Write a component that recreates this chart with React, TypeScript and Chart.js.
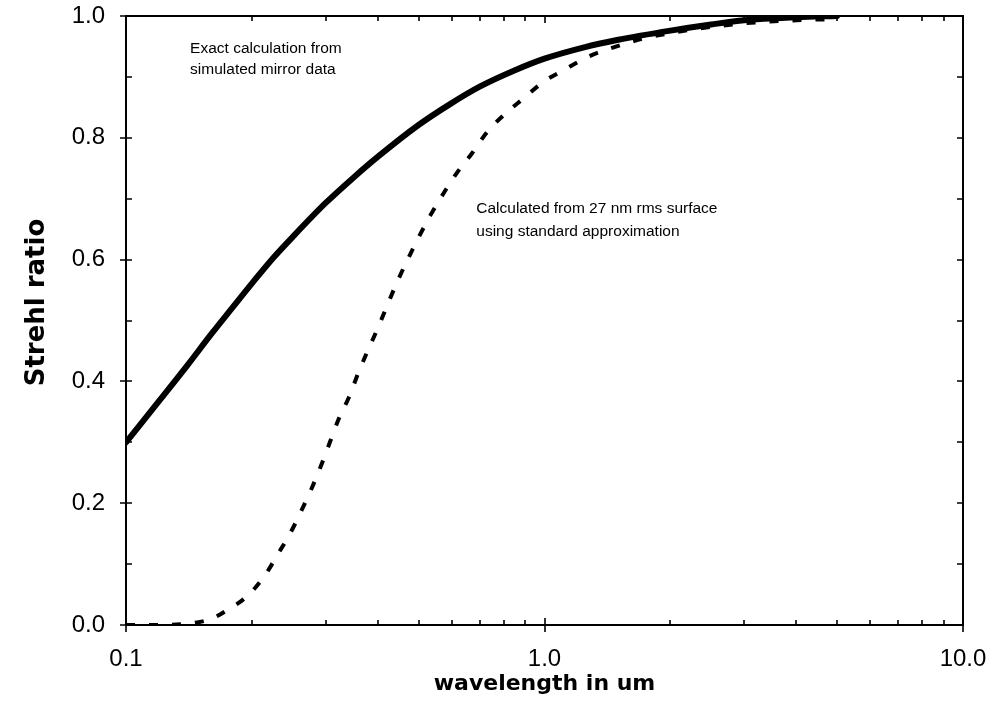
import React, { useEffect, useRef } from "react";
import { Chart, registerables } from "chart.js";

Chart.register(...registerables);

// Exact calculation from simulated mirror data (solid)
const solidX = [0.1, 0.12, 0.14, 0.16, 0.18, 0.2, 0.225, 0.25, 0.3, 0.35, 0.4, 0.5, 0.6, 0.7, 0.85, 1.0, 1.25, 1.5, 2.0, 2.5, 3.0, 4.0, 5.0];
const solidY = [0.3, 0.368, 0.426, 0.478, 0.522, 0.561, 0.603, 0.637, 0.693, 0.735, 0.769, 0.821, 0.857, 0.884, 0.911, 0.93, 0.949, 0.961, 0.976, 0.986, 0.993, 0.998, 1.0];

// Calculated from 27 nm rms surface using standard approximation (dashed)
const dashX = [0.1, 0.12, 0.14, 0.15, 0.16, 0.175, 0.196, 0.215, 0.23, 0.247, 0.263, 0.278, 0.293, 0.307, 0.323, 0.341, 0.359, 0.379, 0.4, 0.421, 0.447, 0.5, 0.534, 0.574, 0.62, 0.672, 0.73, 0.798, 0.892, 0.995, 1.11, 1.27, 1.44, 1.7, 2.0, 2.5, 3.0, 4.0, 5.0];
const dashY = [0.0, 0.0, 0.002, 0.005, 0.01, 0.025, 0.049, 0.082, 0.115, 0.151, 0.189, 0.225, 0.263, 0.3, 0.34, 0.374, 0.414, 0.452, 0.488, 0.525, 0.567, 0.636, 0.673, 0.709, 0.744, 0.775, 0.81, 0.837, 0.865, 0.892, 0.911, 0.933, 0.947, 0.962, 0.972, 0.982, 0.988, 0.993, 0.995];

const xTickValues = [0.1, 1, 10];
const xTickLabels = ["0.1", "1.0", "10.0"];
const xMinorValues = [0.2, 0.3, 0.4, 0.5, 0.6, 0.7, 0.8, 0.9, 2, 3, 4, 5, 6, 7, 8, 9];
const yTickValues = [0, 0.2, 0.4, 0.6, 0.8, 1.0];
const yTickLabels = ["0.0", "0.2", "0.4", "0.6", "0.8", "1.0"];
const yMinorValues = [0.1, 0.3, 0.5, 0.7, 0.9];

const xTitle = "wavelength in um";
const yTitle = "Strehl ratio";
const solidNote = ["Exact calculation from", "simulated mirror data"];
const dashNote = ["Calculated from 27 nm rms surface", "using standard approximation"];

const tickFont = '"Liberation Sans", Arial, sans-serif';
const titleFont = '"DejaVu Sans", Verdana, sans-serif';

const framePlugin = {
  id: "frame",
  beforeDatasetsDraw(chart: any) {
    const { ctx, chartArea, scales } = chart;
    const { left, right, top, bottom } = chartArea;
    const x = scales.x;
    const y = scales.y;
    ctx.save();
    ctx.strokeStyle = "#000";
    ctx.lineWidth = 2;
    ctx.strokeRect(left, top, right - left, bottom - top);
    ctx.lineWidth = 1.6;
    ctx.beginPath();
    xTickValues.forEach((v) => {
      const px = Math.round(x.getPixelForValue(v));
      ctx.moveTo(px, bottom + 7);
      ctx.lineTo(px, bottom - 7);
      ctx.moveTo(px, top);
      ctx.lineTo(px, top + 7);
    });
    xMinorValues.forEach((v) => {
      const px = Math.round(x.getPixelForValue(v));
      ctx.moveTo(px, bottom);
      ctx.lineTo(px, bottom - 5);
      ctx.moveTo(px, top);
      ctx.lineTo(px, top + 5);
    });
    yTickValues.forEach((v) => {
      const py = Math.round(y.getPixelForValue(v));
      ctx.moveTo(left - 6, py);
      ctx.lineTo(left + 6, py);
      ctx.moveTo(right, py);
      ctx.lineTo(right - 6, py);
    });
    yMinorValues.forEach((v) => {
      const py = Math.round(y.getPixelForValue(v));
      ctx.moveTo(left, py);
      ctx.lineTo(left + 6, py);
      ctx.moveTo(right, py);
      ctx.lineTo(right - 6, py);
    });
    ctx.stroke();

    // y axis title
    ctx.fillStyle = "#000";
    ctx.save();
    ctx.translate(37, (top + bottom) / 2 - 18);
    ctx.rotate(-Math.PI / 2);
    ctx.font = 'bold 26px "DejaVu Sans", Verdana, sans-serif';
    ctx.textAlign = "center";
    ctx.textBaseline = "middle";
    ctx.fillText(yTitle, 0, 0);
    ctx.restore();

    ctx.font = '15.5px "Liberation Sans", Arial, sans-serif';
    ctx.textAlign = "left";
    ctx.textBaseline = "middle";
    ctx.fillText(solidNote[0], x.getPixelForValue(0.1423), y.getPixelForValue(0.947));
    ctx.fillText(solidNote[1], x.getPixelForValue(0.1423), y.getPixelForValue(0.911));
    ctx.fillText(dashNote[0], x.getPixelForValue(0.687), y.getPixelForValue(0.683));
    ctx.fillText(dashNote[1], x.getPixelForValue(0.687), y.getPixelForValue(0.645));
    ctx.restore();
  },
};

const zeroPad = (s: any) => {
  s.paddingTop = 0;
  s.paddingBottom = 0;
  s.paddingLeft = 0;
  s.paddingRight = 0;
};

export default function App() {
  const ref = useRef<HTMLCanvasElement | null>(null);

  useEffect(() => {
    if (!ref.current) return;
    const chart = new Chart(ref.current, {
      type: "line",
      data: {
        datasets: [
          {
            label: "Exact calculation",
            data: solidX.map((v, i) => ({ x: v, y: solidY[i] })),
            borderColor: "#000",
            backgroundColor: "#000",
            borderWidth: 6,
            pointRadius: 0,
            cubicInterpolationMode: "monotone",
            borderCapStyle: "round",
            borderJoinStyle: "round",
            fill: false,
          },
          {
            label: "Standard approximation",
            data: dashX.map((v, i) => ({ x: v, y: dashY[i] })),
            borderColor: "#000",
            backgroundColor: "#000",
            borderWidth: 4,
            borderDash: [9, 14],
            pointRadius: 0,
            cubicInterpolationMode: "monotone",
            fill: false,
          },
        ],
      },
      options: {
        responsive: false,
        animation: false,
        events: [],
        layout: { padding: { top: 16, right: 26, left: 0, bottom: 0 } },
        plugins: { legend: { display: false }, tooltip: { enabled: false } },
        scales: {
          x: {
            type: "logarithmic",
            min: 0.1,
            max: 10,
            grid: { display: false },
            border: { display: false },
            afterBuildTicks: (s: any) => {
              s.ticks = xTickValues.map((v) => ({ value: v }));
            },
            afterFit: (s: any) => {
              s.height = 78;
              zeroPad(s);
            },
            ticks: {
              autoSkip: false,
              maxRotation: 0,
              padding: 12,
              color: "#000",
              font: { family: tickFont, size: 24 },
              callback: (_v: any, i: number) => xTickLabels[i],
            },
            title: {
              display: true,
              text: xTitle,
              color: "#000",
              font: { family: titleFont, size: 22, weight: "bold" },
              padding: { top: 0, bottom: 6 },
            },
          },
          y: {
            type: "linear",
            min: 0,
            max: 1,
            grid: { display: false },
            border: { display: false },
            afterBuildTicks: (s: any) => {
              s.ticks = yTickValues.map((v) => ({ value: v }));
            },
            afterFit: (s: any) => {
              s.width = 126;
              zeroPad(s);
            },
            ticks: {
              autoSkip: false,
              padding: 13,
              color: "#000",
              font: { family: tickFont, size: 24 },
              callback: (_v: any, i: number) => yTickLabels[i],
            },
            title: { display: false, text: yTitle },
          },
        },
      },
      plugins: [framePlugin],
    } as any);
    return () => chart.destroy();
  }, []);

  return (
    <div style={{ position: "fixed", left: 0, top: 0, width: 989, height: 703, background: "#fff" }}>
      <canvas ref={ref} width={989} height={703} style={{ display: "block" }} />
    </div>
  );
}
